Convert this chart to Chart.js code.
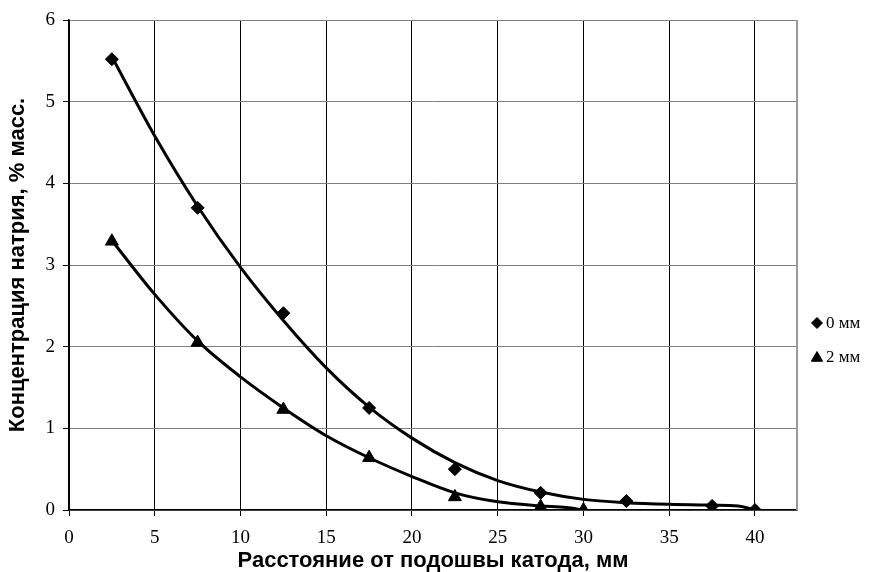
<!DOCTYPE html>
<html>
<head>
<meta charset="utf-8">
<script src="https://cdn.jsdelivr.net/npm/chart.js@4/dist/chart.umd.min.js"></script>
<style>
  html, body { margin: 0; padding: 0; background: #fff; }
  #wrap { width: 877px; height: 572px; }
</style>
</head>
<body>
<div id="wrap"><canvas id="chart" width="877" height="572"></canvas></div>
<script>
// measured points (markers)
const x0mm = [2.5, 7.5, 12.5, 17.5, 22.5, 27.5, 32.5, 37.5, 40];
const y0mm = [5.52, 3.70, 2.41, 1.25, 0.50, 0.21, 0.11, 0.05, 0.0];
const x2mm = [2.5, 7.5, 12.5, 17.5, 22.5, 27.5, 30];
const y2mm = [3.29, 2.05, 1.23, 0.64, 0.16, 0.04, 0.0];

// smoothed curves
const curve0X = [2.5, 5, 7.5, 10, 12.5, 15, 17.5, 20, 22.5, 25, 27.5, 30, 32.5, 35, 37.5, 39, 40];
const curve0Y = [5.55, 4.58, 3.72, 2.97, 2.32, 1.74, 1.26, 0.88, 0.58, 0.36, 0.22, 0.13, 0.09, 0.07, 0.06, 0.05, 0.0];
const curve2X = [2.5, 5, 7.5, 10, 12.5, 15, 17.5, 20, 22.5, 25, 27.5, 29, 30];
const curve2Y = [3.30, 2.64, 2.07, 1.63, 1.25, 0.91, 0.64, 0.41, 0.21, 0.10, 0.05, 0.03, 0.0];

const xTickValues = [0, 5, 10, 15, 20, 25, 30, 35, 40];
const yTickValues = [0, 1, 2, 3, 4, 5, 6];

const seriesLabels = ["0 мм", "2 мм"];
const xTitle = "Расстояние от подошвы катода, мм";
const yTitle = "Концентрация натрия, % масс.";

const SERIF = "'Liberation Serif', 'Times New Roman', serif";
const SANS = "'Liberation Sans', Arial, sans-serif";

function toPoints(xs, ys) {
  return xs.map((x, i) => ({ x, y: ys[i] }));
}

const curveStyle = {
  showLine: true,
  borderColor: "#000",
  borderWidth: 3,
  pointRadius: 0,
  cubicInterpolationMode: "monotone",
};

const markerStyle = {
  showLine: false,
  backgroundColor: "#000",
  borderColor: "#000",
  borderWidth: 1,
};

// legend at the right, drawn by hand so the plot area stays fixed
const sideLegend = {
  id: "sideLegend",
  afterDraw(chart) {
    const ctx = chart.ctx;
    const items = [
      { style: "rectRot", r: 5.5, y: 323, text: seriesLabels[0] },
      { style: "triangle", r: 6.5, y: 357, text: seriesLabels[1] },
    ];
    ctx.save();
    ctx.font = "17px " + SERIF;
    ctx.textBaseline = "middle";
    for (const it of items) {
      ctx.fillStyle = "#000";
      ctx.strokeStyle = "#000";
      Chart.helpers.drawPoint(ctx, {
        pointStyle: it.style, radius: it.r, rotation: 0, borderWidth: 1,
      }, 817, it.y + (it.style === "triangle" ? 1 : 0));
      ctx.fillText(it.text, 826, it.y + 1);
    }
    ctx.restore();
  },
};

// grey right border of the plot area
const rightBorder = {
  id: "rightBorder",
  afterDatasetsDraw(chart) {
    const { ctx, chartArea } = chart;
    ctx.save();
    ctx.strokeStyle = "#999";
    ctx.lineWidth = 2;
    ctx.beginPath();
    ctx.moveTo(chartArea.right, chartArea.top);
    ctx.lineTo(chartArea.right, chartArea.bottom);
    ctx.stroke();
    ctx.restore();
  },
};

new Chart(document.getElementById("chart"), {
  type: "scatter",
  data: {
    datasets: [
      { ...curveStyle, data: toPoints(curve0X, curve0Y), order: 2 },
      { ...curveStyle, data: toPoints(curve2X, curve2Y), order: 2 },
      { ...markerStyle, label: seriesLabels[0], data: toPoints(x0mm, y0mm),
        pointStyle: "rectRot", pointRadius: 6.5, order: 1 },
      { ...markerStyle, label: seriesLabels[1], data: toPoints(x2mm, y2mm),
        pointStyle: "triangle", pointRadius: 7.5, order: 1 },
    ],
  },
  options: {
    responsive: false,
    animation: false,
    layout: { padding: { top: 20, right: 80, left: 0, bottom: 0 } },
    plugins: {
      legend: { display: false },
      tooltip: { enabled: false },
    },
    scales: {
      x: {
        type: "linear",
        min: 0,
        max: 42.45,
        afterBuildTicks(scale) {
          scale.ticks = xTickValues.map((v) => ({ value: v }));
        },
        afterFit(scale) { scale.height = 62; },
        ticks: {
          color: "#000",
          padding: 11,
          font: { family: SERIF, size: 19 },
        },
        grid: {
          color: "#000",
          lineWidth: 1,
          tickLength: 6,
          tickColor: "#000",
        },
        border: { color: "#000", width: 1.5 },
        title: {
          display: true,
          text: xTitle,
          color: "#000",
          font: { family: SANS, size: 22, weight: "bold", lineHeight: 1 },
          padding: { top: 0, bottom: 0 },
        },
      },
      y: {
        min: 0,
        max: 6,
        afterBuildTicks(scale) {
          scale.ticks = yTickValues.map((v) => ({ value: v }));
        },
        afterFit(scale) { scale.width = 69; },
        ticks: {
          color: "#000",
          padding: 8,
          font: { family: SERIF, size: 19 },
        },
        grid: {
          color: "#808080",
          lineWidth: 1,
          tickLength: 6,
          tickColor: "#000",
        },
        border: { color: "#000", width: 1.5 },
        title: {
          display: true,
          text: yTitle,
          color: "#000",
          font: { family: SANS, size: 22, weight: "bold", lineHeight: 1 },
          padding: { top: 7, bottom: 0 },
        },
      },
    },
  },
  plugins: [sideLegend, rightBorder],
});
</script>
</body>
</html>
